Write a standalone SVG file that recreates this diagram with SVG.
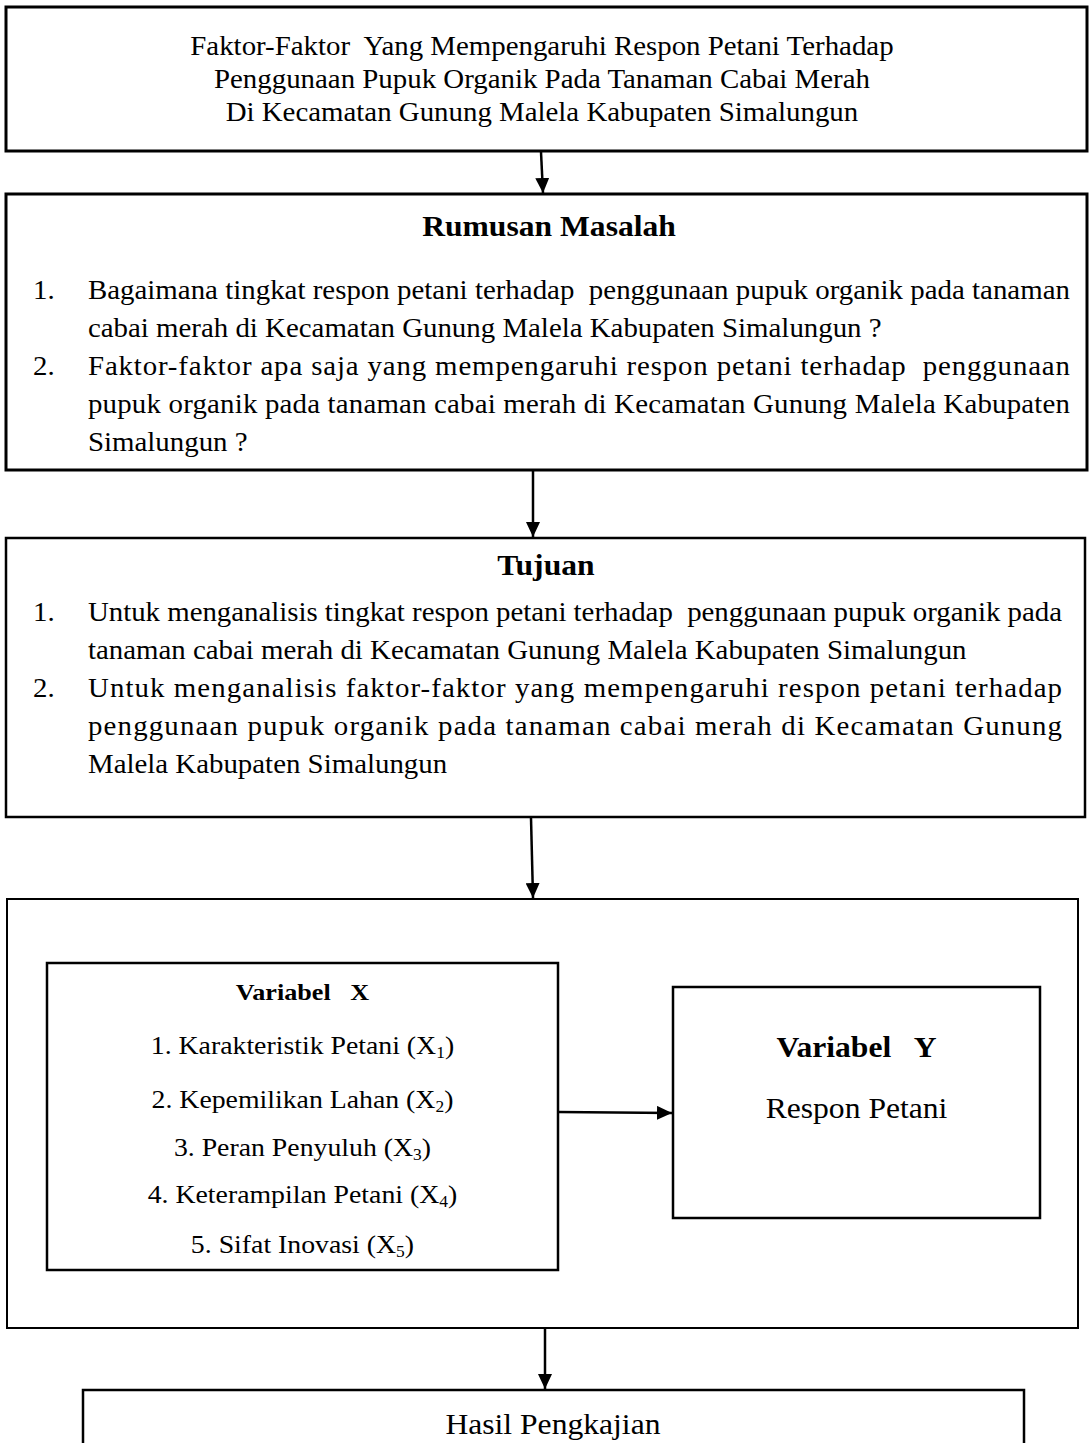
<svg xmlns="http://www.w3.org/2000/svg" width="1089" height="1443" viewBox="0 0 1089 1443">
<defs>
<style>
.box{fill:#fff;stroke:#000;}
.t{font-family:"Liberation Serif","Times New Roman",serif;fill:#000;}
.b{font-weight:bold;}
.c{text-anchor:middle;}
.conn{stroke:#000;stroke-width:2.5;fill:none;}
</style>
<marker id="ah" markerUnits="userSpaceOnUse" markerWidth="16" markerHeight="14" refX="15" refY="7" orient="auto">
<path d="M0,0 L15,7 L0,14 z" fill="#000"/>
</marker>
</defs>
<rect width="1089" height="1443" fill="#fff"/>

<g id="judul">
<rect class="box" x="6" y="7" width="1081" height="144" stroke-width="3"/>
<g transform="scale(1.09,1)" class="t c" font-size="26.5">
<text x="497.2" y="55" xml:space="preserve">Faktor-Faktor  Yang Mempengaruhi Respon Petani Terhadap</text>
<text x="497.2" y="88">Penggunaan Pupuk Organik Pada Tanaman Cabai Merah</text>
<text x="497.2" y="121">Di Kecamatan Gunung Malela Kabupaten Simalungun</text>
</g>
</g>

<g id="rumusan">
<rect class="box" x="6" y="194" width="1081" height="276" stroke-width="3"/>
<g transform="scale(1.09,1)" class="t" font-size="26.5">
<text class="b c" x="503.7" y="236" font-size="29">Rumusan Masalah</text>
<text x="30.3" y="299">1.</text>
<text x="80.7" y="299" textLength="900.9" lengthAdjust="spacing" xml:space="preserve">Bagaimana tingkat respon petani terhadap  penggunaan pupuk organik pada tanaman</text>
<text x="80.7" y="337">cabai merah di Kecamatan Gunung Malela Kabupaten Simalungun ?</text>
<text x="30.3" y="375">2.</text>
<text x="80.7" y="375" textLength="900.9" lengthAdjust="spacing" xml:space="preserve">Faktor-faktor apa saja yang mempengaruhi respon petani terhadap  penggunaan</text>
<text x="80.7" y="413" textLength="900.9" lengthAdjust="spacing">pupuk organik pada tanaman cabai merah di Kecamatan Gunung Malela Kabupaten</text>
<text x="80.7" y="451">Simalungun ?</text>
</g>
</g>

<g id="tujuan">
<rect class="box" x="6" y="538" width="1079" height="279" stroke-width="2.5"/>
<g transform="scale(1.09,1)" class="t" font-size="26.5">
<text class="b c" x="500.9" y="575" font-size="29">Tujuan</text>
<text x="30.3" y="621">1.</text>
<text x="80.7" y="621" textLength="893.6" lengthAdjust="spacing" xml:space="preserve">Untuk menganalisis tingkat respon petani terhadap  penggunaan pupuk organik pada</text>
<text x="80.7" y="659">tanaman cabai merah di Kecamatan Gunung Malela Kabupaten Simalungun</text>
<text x="30.3" y="697">2.</text>
<text x="80.7" y="697" textLength="893.6" lengthAdjust="spacing">Untuk menganalisis faktor-faktor yang mempengaruhi respon petani terhadap</text>
<text x="80.7" y="735" textLength="893.6" lengthAdjust="spacing">penggunaan pupuk organik pada tanaman cabai merah di Kecamatan Gunung</text>
<text x="80.7" y="773">Malela Kabupaten Simalungun</text>
</g>
</g>

<g id="kerangka">
<rect class="box" x="7" y="899" width="1071" height="429" stroke-width="2"/>
</g>

<g id="variabel-x">
<rect class="box" x="47" y="963" width="511" height="307" stroke-width="2.5"/>
<g transform="scale(1.09,1)" class="t c" font-size="25.5">
<text class="b" x="277.5" y="1000" font-size="24" xml:space="preserve">Variabel   X</text>
<text x="277.5" y="1054">1. Karakteristik Petani (X<tspan font-size="16" dy="4">1</tspan><tspan dy="-4">)</tspan></text>
<text x="277.5" y="1108">2. Kepemilikan Lahan (X<tspan font-size="16" dy="4">2</tspan><tspan dy="-4">)</tspan></text>
<text x="277.5" y="1156">3. Peran Penyuluh (X<tspan font-size="16" dy="4">3</tspan><tspan dy="-4">)</tspan></text>
<text x="277.5" y="1203">4. Keterampilan Petani (X<tspan font-size="16" dy="4">4</tspan><tspan dy="-4">)</tspan></text>
<text x="277.5" y="1253">5. Sifat Inovasi (X<tspan font-size="16" dy="4">5</tspan><tspan dy="-4">)</tspan></text>
</g>
</g>

<g id="variabel-y">
<rect class="box" x="673" y="987" width="367" height="231" stroke-width="2.5"/>
<g transform="scale(1.09,1)" class="t c" font-size="29">
<text class="b" x="785.8" y="1057" xml:space="preserve">Variabel   Y</text>
<text x="785.8" y="1118">Respon Petani</text>
</g>
</g>

<g id="hasil">
<rect class="box" x="83" y="1390" width="941" height="80" stroke-width="2.5"/>
<g transform="scale(1.09,1)" class="t c" font-size="29">
<text x="507.3" y="1434">Hasil Pengkajian</text>
</g>
</g>

<g id="connectors">
<line class="conn" x1="541" y1="152" x2="543" y2="193" marker-end="url(#ah)"/>
<line class="conn" x1="533" y1="471" x2="533" y2="537" marker-end="url(#ah)"/>
<line class="conn" x1="531" y1="818" x2="533" y2="898" marker-end="url(#ah)"/>
<line class="conn" x1="558" y1="1112" x2="672" y2="1113" stroke-width="3" marker-end="url(#ah)"/>
<line class="conn" x1="545" y1="1329" x2="545" y2="1389" marker-end="url(#ah)"/>
</g>
</svg>
